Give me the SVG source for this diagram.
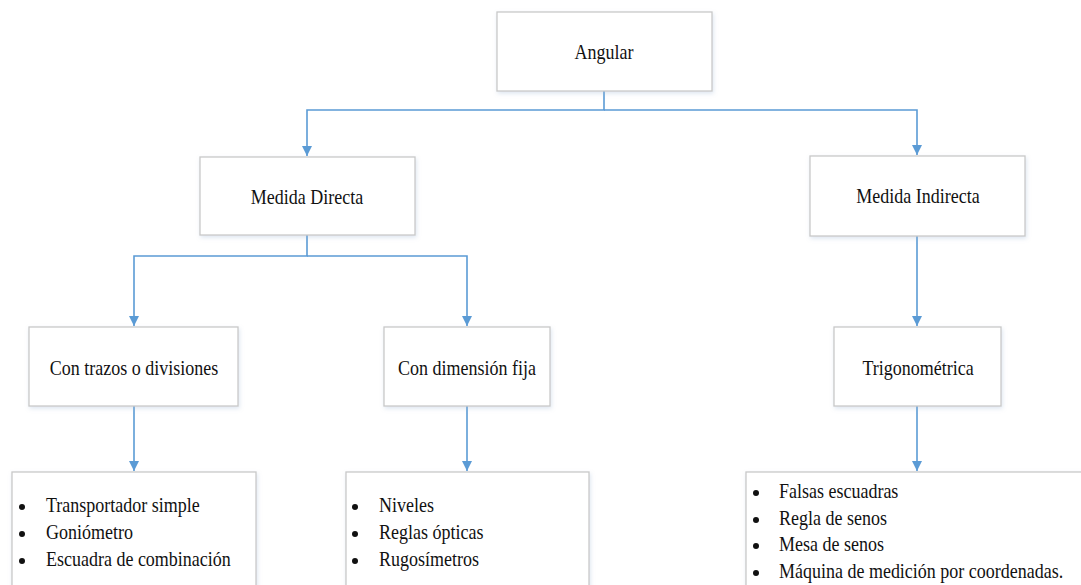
<svg xmlns="http://www.w3.org/2000/svg" width="1081" height="585" viewBox="0 0 1081 585">
  <style>
    .box { fill: #ffffff; stroke: #c9c9c9; stroke-width: 1.3; filter: url(#soft); }
    .lbl { font-family: "Liberation Serif", "Times New Roman", serif; font-size: 18px; fill: #111111; }
    .mid { text-anchor: middle; }
    .dot { fill: #111111; }
    .wire { fill: none; stroke: #5b9bd5; stroke-width: 1.6; }
  </style>
  <defs>
    <filter id="soft" x="-5%" y="-10%" width="115%" height="130%">
      <feDropShadow dx="1" dy="2" stdDeviation="2" flood-color="#9fb6d4" flood-opacity="0.35"/>
    </filter>
    <marker id="arrow" markerUnits="userSpaceOnUse" markerWidth="10" markerHeight="10" refX="10" refY="5" orient="auto">
      <path d="M0,0 L10,5 L0,10 z" fill="#5b9bd5"/>
    </marker>
  </defs>

  <!-- connectors -->
  <g id="connectors" class="wire">
    <path d="M604,91 V110 H307 V156" marker-end="url(#arrow)"/>
    <path d="M604,110 H917 V155" marker-end="url(#arrow)"/>
    <path d="M307,235 V256 H134 V326" marker-end="url(#arrow)"/>
    <path d="M307,256 H467 V326" marker-end="url(#arrow)"/>
    <path d="M917,236 V326" marker-end="url(#arrow)"/>
    <path d="M134,406 V471" marker-end="url(#arrow)"/>
    <path d="M467,406 V471" marker-end="url(#arrow)"/>
    <path d="M917,406 V471" marker-end="url(#arrow)"/>
  </g>

  <!-- root -->
  <g id="angular">
    <rect class="box" x="497" y="12" width="215" height="79"/>
    <text class="lbl mid" transform="translate(604,59) scale(1,1.22)">Angular</text>
  </g>

  <g id="medida-directa">
    <rect class="box" x="200" y="157" width="215" height="78"/>
    <text class="lbl mid" transform="translate(307,204) scale(1,1.22)">Medida Directa</text>
  </g>

  <g id="medida-indirecta">
    <rect class="box" x="810" y="156" width="215" height="80"/>
    <text class="lbl mid" transform="translate(918,203) scale(1,1.22)">Medida Indirecta</text>
  </g>

  <g id="con-trazos">
    <rect class="box" x="29" y="327" width="209" height="79"/>
    <text class="lbl mid" transform="translate(134,375) scale(1,1.22)">Con trazos o divisiones</text>
  </g>

  <g id="con-dimension">
    <rect class="box" x="384" y="327" width="166" height="79"/>
    <text class="lbl mid" transform="translate(467,375) scale(1,1.22)">Con dimensión fija</text>
  </g>

  <g id="trigonometrica">
    <rect class="box" x="834" y="327" width="167" height="79"/>
    <text class="lbl mid" transform="translate(918,375) scale(1,1.22)">Trigonométrica</text>
  </g>

  <!-- instrument lists -->
  <g id="lista-trazos">
    <rect class="box" x="12" y="472" width="244" height="130"/>
    <circle class="dot" cx="22" cy="507" r="3"/>
    <circle class="dot" cx="22" cy="534" r="3"/>
    <circle class="dot" cx="22" cy="561" r="3"/>
    <text class="lbl" transform="translate(46,512) scale(1,1.22)">Transportador simple</text>
    <text class="lbl" transform="translate(46,539) scale(1,1.22)">Goniómetro</text>
    <text class="lbl" transform="translate(46,566) scale(1,1.22)">Escuadra de combinación</text>
  </g>

  <g id="lista-dimension">
    <rect class="box" x="346" y="472" width="243" height="130"/>
    <circle class="dot" cx="355" cy="507" r="3"/>
    <circle class="dot" cx="355" cy="534" r="3"/>
    <circle class="dot" cx="355" cy="561" r="3"/>
    <text class="lbl" transform="translate(379,512) scale(1,1.22)">Niveles</text>
    <text class="lbl" transform="translate(379,539) scale(1,1.22)">Reglas ópticas</text>
    <text class="lbl" transform="translate(379,566) scale(1,1.22)">Rugosímetros</text>
  </g>

  <g id="lista-trigonometrica">
    <rect class="box" x="746" y="472" width="345" height="130"/>
    <circle class="dot" cx="756" cy="493" r="3"/>
    <circle class="dot" cx="756" cy="520" r="3"/>
    <circle class="dot" cx="756" cy="546" r="3"/>
    <circle class="dot" cx="756" cy="573" r="3"/>
    <text class="lbl" transform="translate(779,498) scale(1,1.22)">Falsas escuadras</text>
    <text class="lbl" transform="translate(779,525) scale(1,1.22)">Regla de senos</text>
    <text class="lbl" transform="translate(779,551) scale(1,1.22)">Mesa de senos</text>
    <text class="lbl" transform="translate(779,578) scale(1,1.22)">Máquina de medición por coordenadas.</text>
  </g>
</svg>
